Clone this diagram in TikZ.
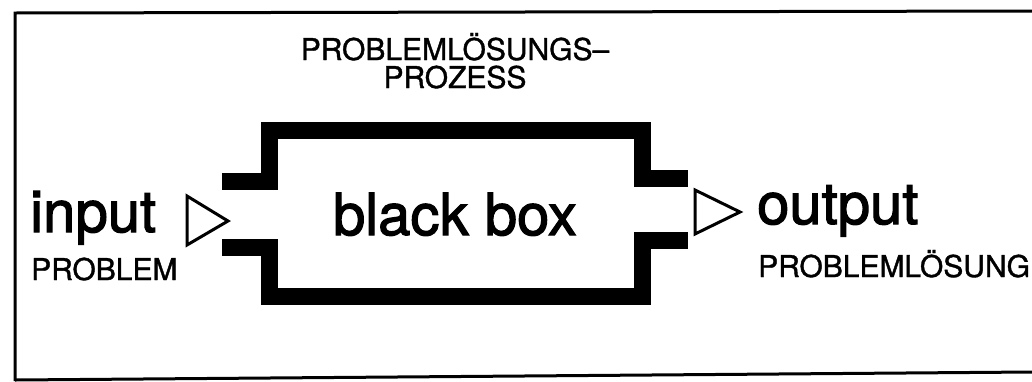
\documentclass[tikz,border=0pt]{standalone}
\usepackage{fontspec}
\setmainfont{TeX Gyre Heros}
\newfontfamily\heavyfont[FakeBold=2]{TeX Gyre Heros}
\newfontfamily\capsfont[FakeBold=1.2]{TeX Gyre Heros}
\usetikzlibrary{positioning}
\tikzset{
bigtext/.style={inner sep=0pt,font=\heavyfont\fontsize{58}{58}\selectfont},
caption/.style={inner sep=0pt,font=\capsfont\fontsize{30}{28}\selectfont},
wall/.style={line width=17pt,line join=miter,line cap=butt},
port/.style={draw,line width=3pt,line join=miter},
frame/.style={line width=3pt}
}
\begin{document}
\begin{tikzpicture}[x=1pt,y=-1pt]
\useasboundingbox (0,0) rectangle (1032,381);
\draw[frame](15,381)--(15,13)--(1032,11);
\draw[frame](15,380)--(1032,372);
% black box walls
\draw[wall](222,181)--(269,181)--(269,130.5)--(642.5,130.5)--(642.5,178)--(688,178);
\draw[wall](222,247)--(269,247)--(269,296.5)--(642.5,296.5)--(642.5,240)--(688,240);
% in and out ports
\draw[port](187,196)--(228,221)--(187,245)--cycle;
\draw[port](695,190)--(740,212)--(695,234)--cycle;
\node[bigtext,anchor=base](blackbox) at (455,235){black box};
\node[caption,align=center,anchor=base](process) at (455,88){PROBLEMLÖSUNGS–\\PROZESS};
\node[bigtext,anchor=base west](input) at (30,232){input};
\node[caption,anchor=base west](problem) at (31,280){PROBLEM};
\node[bigtext,anchor=base west](output) at (757,224){output};
\node[caption,anchor=base west](solution) at (758,277){PROBLEMLÖSUNG};
\end{tikzpicture}
\end{document}
